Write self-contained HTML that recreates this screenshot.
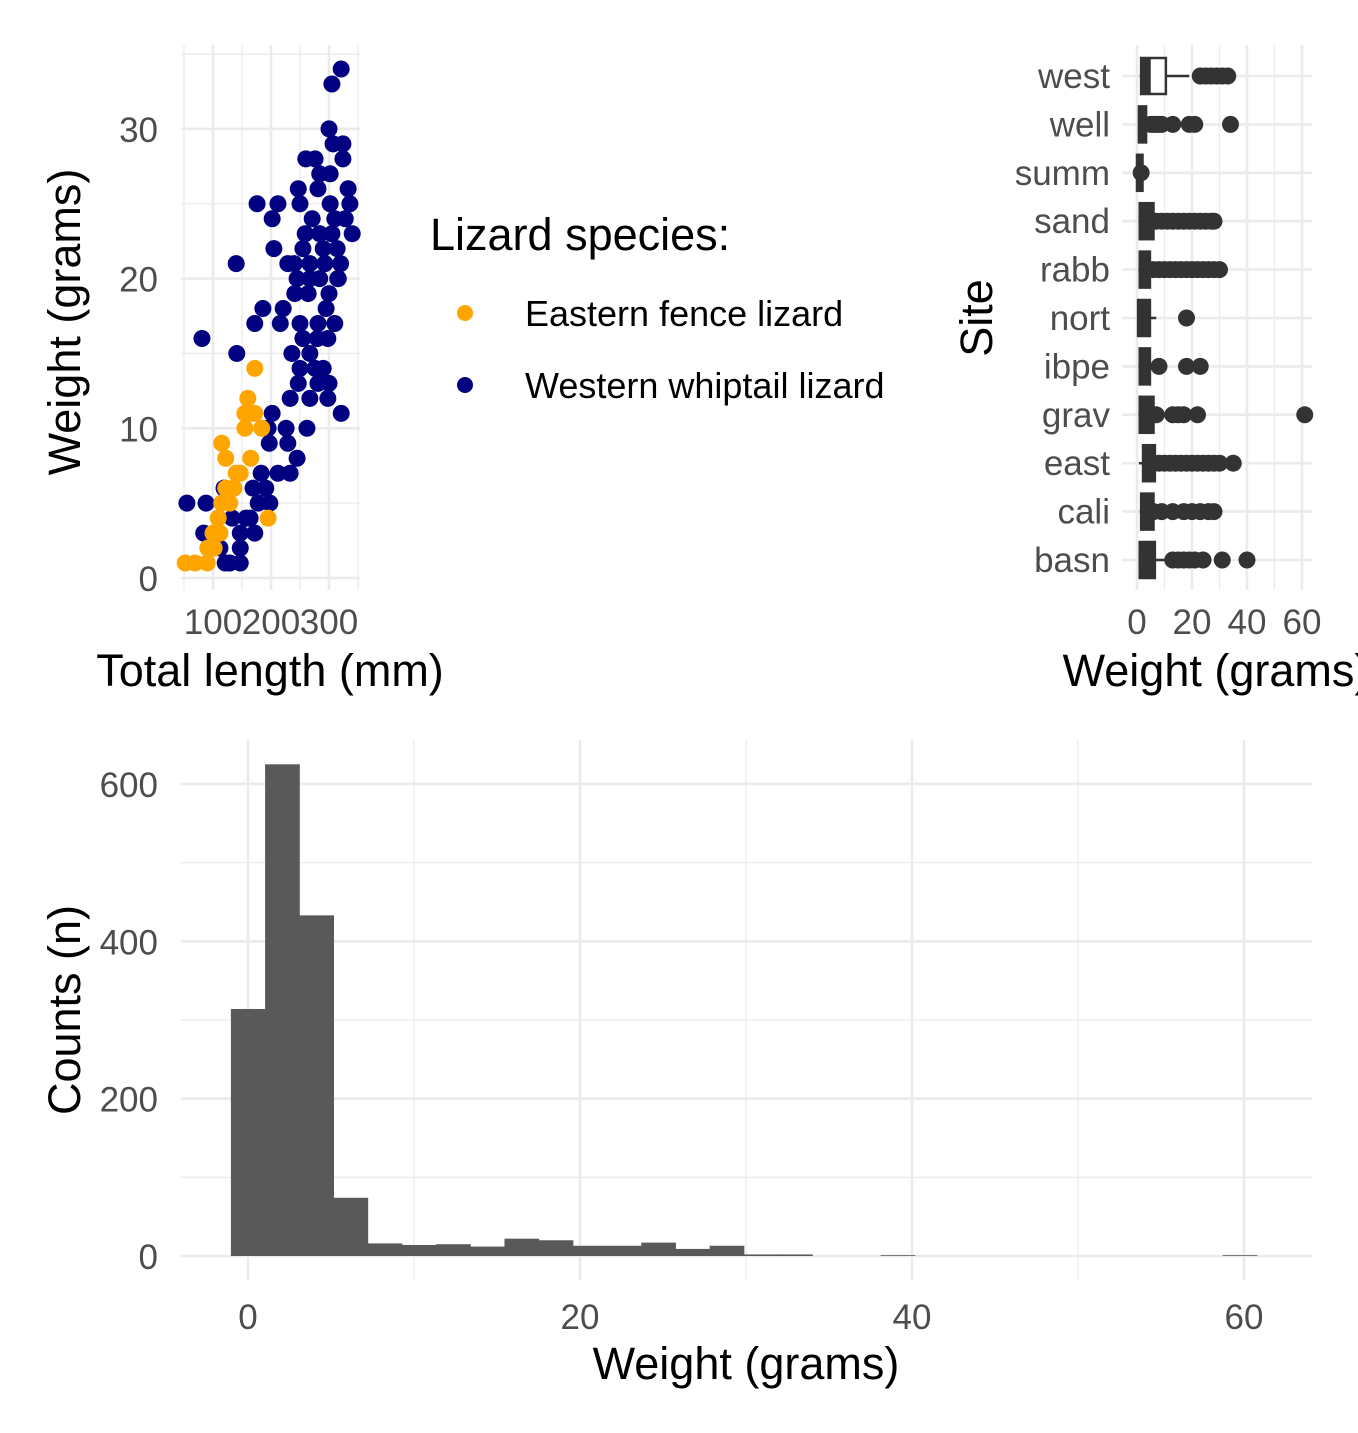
<!DOCTYPE html>
<html><head><meta charset="utf-8"><style>
body{margin:0;background:#fff}
svg{display:block;font-family:"Liberation Sans",sans-serif}
.tick{fill:#4d4d4d;font-size:35px}
.title{fill:#000;font-size:45px}
</style></head><body>
<svg id="c" width="1358" height="1433" viewBox="0 0 1358 1433">
<g id="scatter"></g>
<g id="box"></g>
<g id="hist"></g>
<g>
<text x="430" y="250" class="title">Lizard species:</text>
<circle cx="465" cy="313" r="8" fill="#FFA500"/>
<text x="525" y="326" style="font-size:36px">Eastern fence lizard</text>
<circle cx="465" cy="385" r="8" fill="#000080"/>
<text x="525" y="398" style="font-size:36px">Western whiptail lizard</text>
</g>
</svg>
<script>
// ---------- scatter data ----------
const blueLen=[321,305,300,307,324,324,260,276,284,302,247,281,333,176,212,250,302,336,202,271,328,259,284,340,205,255,314,140,229,240,267,293,245,267,284,316,186,221,264,241,172,216,250,281,81,255,298,141,236,267,250,276,247,281,233,267,298,321,202,195,226,262,197,229,245,212,233,183,169,191,119,178,198,55,88,164,133,172,84,147,112,147,121,147,129,95,157,290,310,295,300,315,280,320,305,290,300,310];
const blueWt=[34,33,30,29,29,28,28,28,27,27,26,26,26,25,25,25,25,25,24,24,24,23,23,23,22,22,22,21,21,21,21,21,20,20,20,20,18,18,19,19,17,17,17,17,16,16,16,15,15,15,14,14,13,13,12,12,12,11,11,10,10,10,9,9,8,7,7,7,6,6,6,5,5,5,5,4,4,3,3,3,2,2,1,1,1,2,4,22,24,18,19,20,16,21,23,14,13,17];
const orangeLen=[172,160,155,172,155,184,115,122,165,147,136,129,115,109,195,112,102,91,90,52,69,122,164,140,100];
const orangeWt=[14,12,11,11,10,10,9,8,8,7,6,5,5,4,4,3,2,2,1,1,1,6,11,7,3];
const scXTicks=[100,200,300], scYTicks=[0,10,20,30];
// ---------- boxplot data ----------
const sites=["west","well","summ","sand","rabb","nort","ibpe","grav","east","cali","basn"];
const q1=[1.5,0.7,0,1,1,0.4,1,1,2.2,1.5,1];
const med=[5,1.5,0.8,3,2.5,2,2,3,4,3,3.5];
const q3=[10.5,3.3,2,6,4.7,4.7,4.7,6,6.5,6,6.5];
const wlo=[1,0.3,0,0.5,0.5,0.2,0.5,0.5,0.7,1,0.5];
const whi=[19,5,2,7,6,7,5,7,7.5,7,10.5];
const outl=[[23,25,27,29,31,33],[5,6,7,8,9,13,19,21,34],[1.5],[7,9,11,13,15,17,19,21,23,25,27,28],[6,8,10,12,14,16,18,20,22,24,26,28,30],[18],[8,18,23],[7,13,15,17,22,61],[8,10,12,14,16,18,20,22,24,26,28,30,35],[6,9,13,17,20,23,26,28],[13,15,17,19,21,24,31,40]];
const bxTicks=[0,20,40,60];
// ---------- histogram data ----------
const binStart=-1.03, binW=2.06;
const counts=[314,625,433,74,16,14,15,12,22,20,13,13,17,9,13,2,2,0,0,1,0,0,0,0,0,0,0,0,0,1];
const hXTicks=[0,20,40,60], hYTicks=[0,200,400,600];

const NS="http://www.w3.org/2000/svg";
function mk(p,tag,at){const e=document.createElementNS(NS,tag);for(const k in at)e.setAttribute(k,at[k]);p.appendChild(e);return e;}
const GC="#ebebeb";
// scatter
(function(){
 const g=document.getElementById('scatter');
 const sx=v=>213+(v-100)*0.58, sy=v=>578-v*14.97;
 [50,150,250,350].forEach(v=>{const l=mk(g,'line',{x1:sx(v),x2:sx(v),y1:45,y2:590,stroke:GC,'stroke-width':1.3});});
 [5,15,25,35].forEach(v=>{const l=mk(g,'line',{x1:181,x2:360,y1:sy(v),y2:sy(v),stroke:GC,'stroke-width':1.3});});
 scXTicks.forEach(v=>{const l=mk(g,'line',{x1:sx(v),x2:sx(v),y1:45,y2:590,stroke:GC,'stroke-width':2.6});
  const t=mk(g,'text',{x:sx(v),y:634,'text-anchor':'middle',class:'tick'});t.textContent=v;});
 scYTicks.forEach(v=>{const l=mk(g,'line',{x1:181,x2:360,y1:sy(v),y2:sy(v),stroke:GC,'stroke-width':2.6});
  const t=mk(g,'text',{x:158,y:sy(v)+13,'text-anchor':'end',class:'tick'});t.textContent=v;});
 blueLen.forEach((v,i)=>{const c=mk(g,'circle',{cx:sx(v),cy:sy(blueWt[i]),r:8.5,fill:'#000080'});});
 orangeLen.forEach((v,i)=>{const c=mk(g,'circle',{cx:sx(v),cy:sy(orangeWt[i]),r:8.5,fill:'#FFA500'});});
 let t=mk(g,'text',{x:270,y:686,'text-anchor':'middle',class:'title'});t.textContent='Total length (mm)';
 t=mk(g,'text',{x:0,y:0,'text-anchor':'middle',class:'title',transform:'translate(80,322) rotate(-90)'});t.textContent='Weight (grams)';
})();
// boxplot
(function(){
 const g=document.getElementById('box');
 const sx=v=>1137+v*2.75, sy=i=>76+i*48.4;
 [10,30,50].forEach(v=>{const l=mk(g,'line',{x1:sx(v),x2:sx(v),y1:45,y2:590,stroke:GC,'stroke-width':1.3});});
 bxTicks.forEach(v=>{const l=mk(g,'line',{x1:sx(v),x2:sx(v),y1:45,y2:590,stroke:GC,'stroke-width':2.6});
  const t=mk(g,'text',{x:sx(v),y:634,'text-anchor':'middle',class:'tick'});t.textContent=v;});
 sites.forEach((s,i)=>{const y=sy(i);
  const l=mk(g,'line',{x1:1122,x2:1312,y1:y,y2:y,stroke:GC,'stroke-width':2.6});
  const t=mk(g,'text',{x:1110,y:y+12,'text-anchor':'end',class:'tick'});t.textContent=s;});
 sites.forEach((s,i)=>{const y=sy(i);
  let w=mk(g,'line',{x1:sx(wlo[i]),x2:sx(whi[i]),y1:y,y2:y,stroke:'#333','stroke-width':2.5});
  const bw=sx(q3[i])-sx(q1[i]);
  const r=mk(g,'rect',{x:sx(q1[i]),y:y-18,width:bw,height:36,fill:bw<16?'#333':'#fff',stroke:'#333','stroke-width':2.5});
  const m=mk(g,'rect',{x:sx(q1[i]),y:y-18,width:Math.max(sx(med[i])-sx(q1[i]),3),height:36,fill:'#333'});
  outl[i].forEach(v=>{const c=mk(g,'circle',{cx:sx(v),cy:y,r:8.5,fill:'#333'});});
 });
 let t=mk(g,'text',{x:1216,y:686,'text-anchor':'middle',class:'title'});t.textContent='Weight (grams)';
 t=mk(g,'text',{x:0,y:0,'text-anchor':'middle',class:'title',transform:'translate(992,318) rotate(-90)'});t.textContent='Site';
})();
// histogram
(function(){
 const g=document.getElementById('hist');
 const sx=v=>248+v*16.6, sy=v=>1256-v*0.7867;
 [10,30,50].forEach(v=>{const l=mk(g,'line',{x1:sx(v),x2:sx(v),y1:740,y2:1280,stroke:GC,'stroke-width':1.3});});
 [100,300,500].forEach(v=>{const l=mk(g,'line',{x1:181,x2:1312,y1:sy(v),y2:sy(v),stroke:GC,'stroke-width':1.3});});
 hXTicks.forEach(v=>{const l=mk(g,'line',{x1:sx(v),x2:sx(v),y1:740,y2:1280,stroke:GC,'stroke-width':2.6});
  const t=mk(g,'text',{x:sx(v),y:1329,'text-anchor':'middle',class:'tick'});t.textContent=v;});
 hYTicks.forEach(v=>{const l=mk(g,'line',{x1:181,x2:1312,y1:sy(v),y2:sy(v),stroke:GC,'stroke-width':2.6});
  const t=mk(g,'text',{x:158,y:sy(v)+13,'text-anchor':'end',class:'tick'});t.textContent=v;});
 counts.forEach((c,i)=>{const x0=sx(binStart+i*binW),x1=sx(binStart+(i+1)*binW);
  const r=mk(g,'rect',{x:x0,y:sy(c),width:x1-x0+0.5,height:Math.max(sy(0)-sy(c),0),fill:'#595959'});});
 let t=mk(g,'text',{x:746,y:1379,'text-anchor':'middle',class:'title'});t.textContent='Weight (grams)';
 t=mk(g,'text',{x:0,y:0,'text-anchor':'middle',class:'title',transform:'translate(80,1010) rotate(-90)'});t.textContent='Counts (n)';
})();
</script>
</body></html>
